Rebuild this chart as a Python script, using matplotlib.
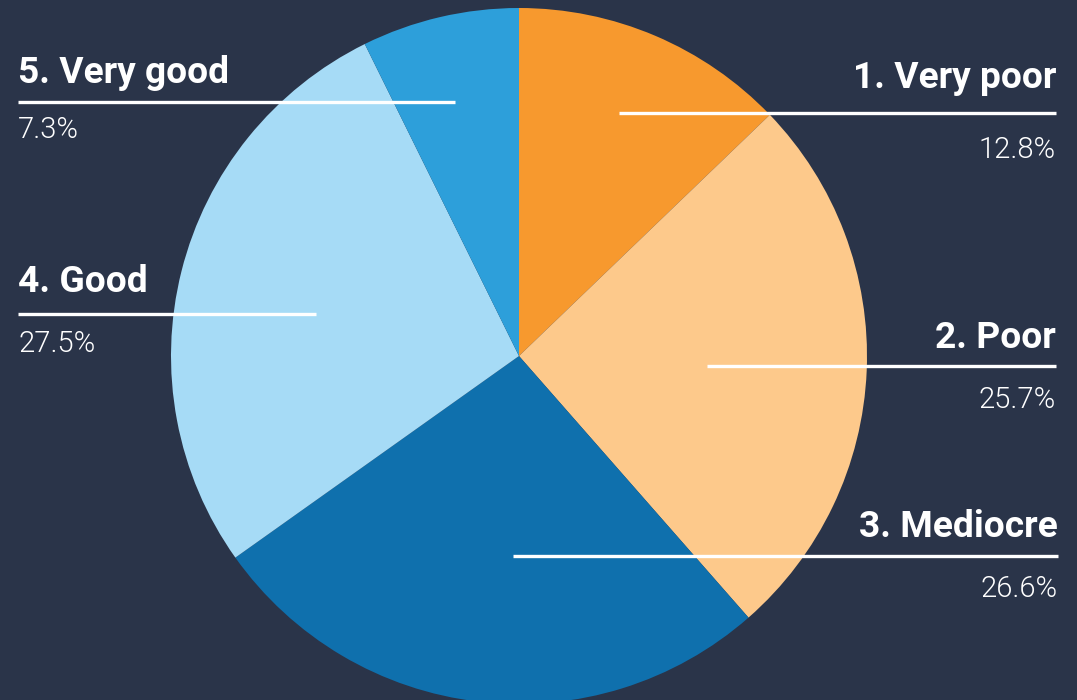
import matplotlib.pyplot as plt

# Survey answers, clockwise from 12 o'clock.
labels = ['1. Very poor', '2. Poor', '3. Mediocre', '4. Good', '5. Very good']
shares = [12.8, 25.7, 26.6, 27.5, 7.3]
colors = ['#f7992e', '#fdc98b', '#0f70ad', '#a6dbf6', '#2d9fda']

bg = '#2a3449'
W, H = 1077, 700

# Label placement in pixel units (y measured from the top):
# (side, line start x, line end x, line y, title baseline, value baseline)
placement = [
    ('right', 619, 1056, 113, 88, 158),
    ('right', 707, 1056, 366, 348, 408),
    ('right', 513, 1058, 556, 537, 597),
    ('left', 18, 316, 314, 292, 352),
    ('left', 18, 455, 102, 83, 138),
]

fig = plt.figure(figsize=(W / 100, H / 100), dpi=100, facecolor=bg)
ax = fig.add_axes([0, 0, 1, 1])
ax.set_facecolor(bg)
ax.set_xlim(0, W)
ax.set_ylim(0, H)
ax.set_aspect('equal')
ax.axis('off')

ax.pie(shares, colors=colors, startangle=90, counterclock=False,
       center=(519, H - 356), radius=348,
       wedgeprops=dict(linewidth=0))
ax.set_xlim(0, W)
ax.set_ylim(0, H)

for lab, val, (side, x0, x1, ly, ty, vy) in zip(labels, shares, placement):
    ax.plot([x0, x1], [H - ly, H - ly], color='white', linewidth=2.4,
            solid_capstyle='butt', zorder=5)
    tx = x1 if side == 'right' else x0
    ax.text(tx, H - ty, lab, ha=side, va='baseline', color='white',
            fontsize=26.7, fontweight='bold', family='Roboto', zorder=6)
    ax.text(tx, H - vy, f'{val}%', ha=side, va='baseline', color='white',
            fontsize=21, fontweight=300, family='Roboto', zorder=6)

fig.savefig('out.png', dpi=100, facecolor=bg)
